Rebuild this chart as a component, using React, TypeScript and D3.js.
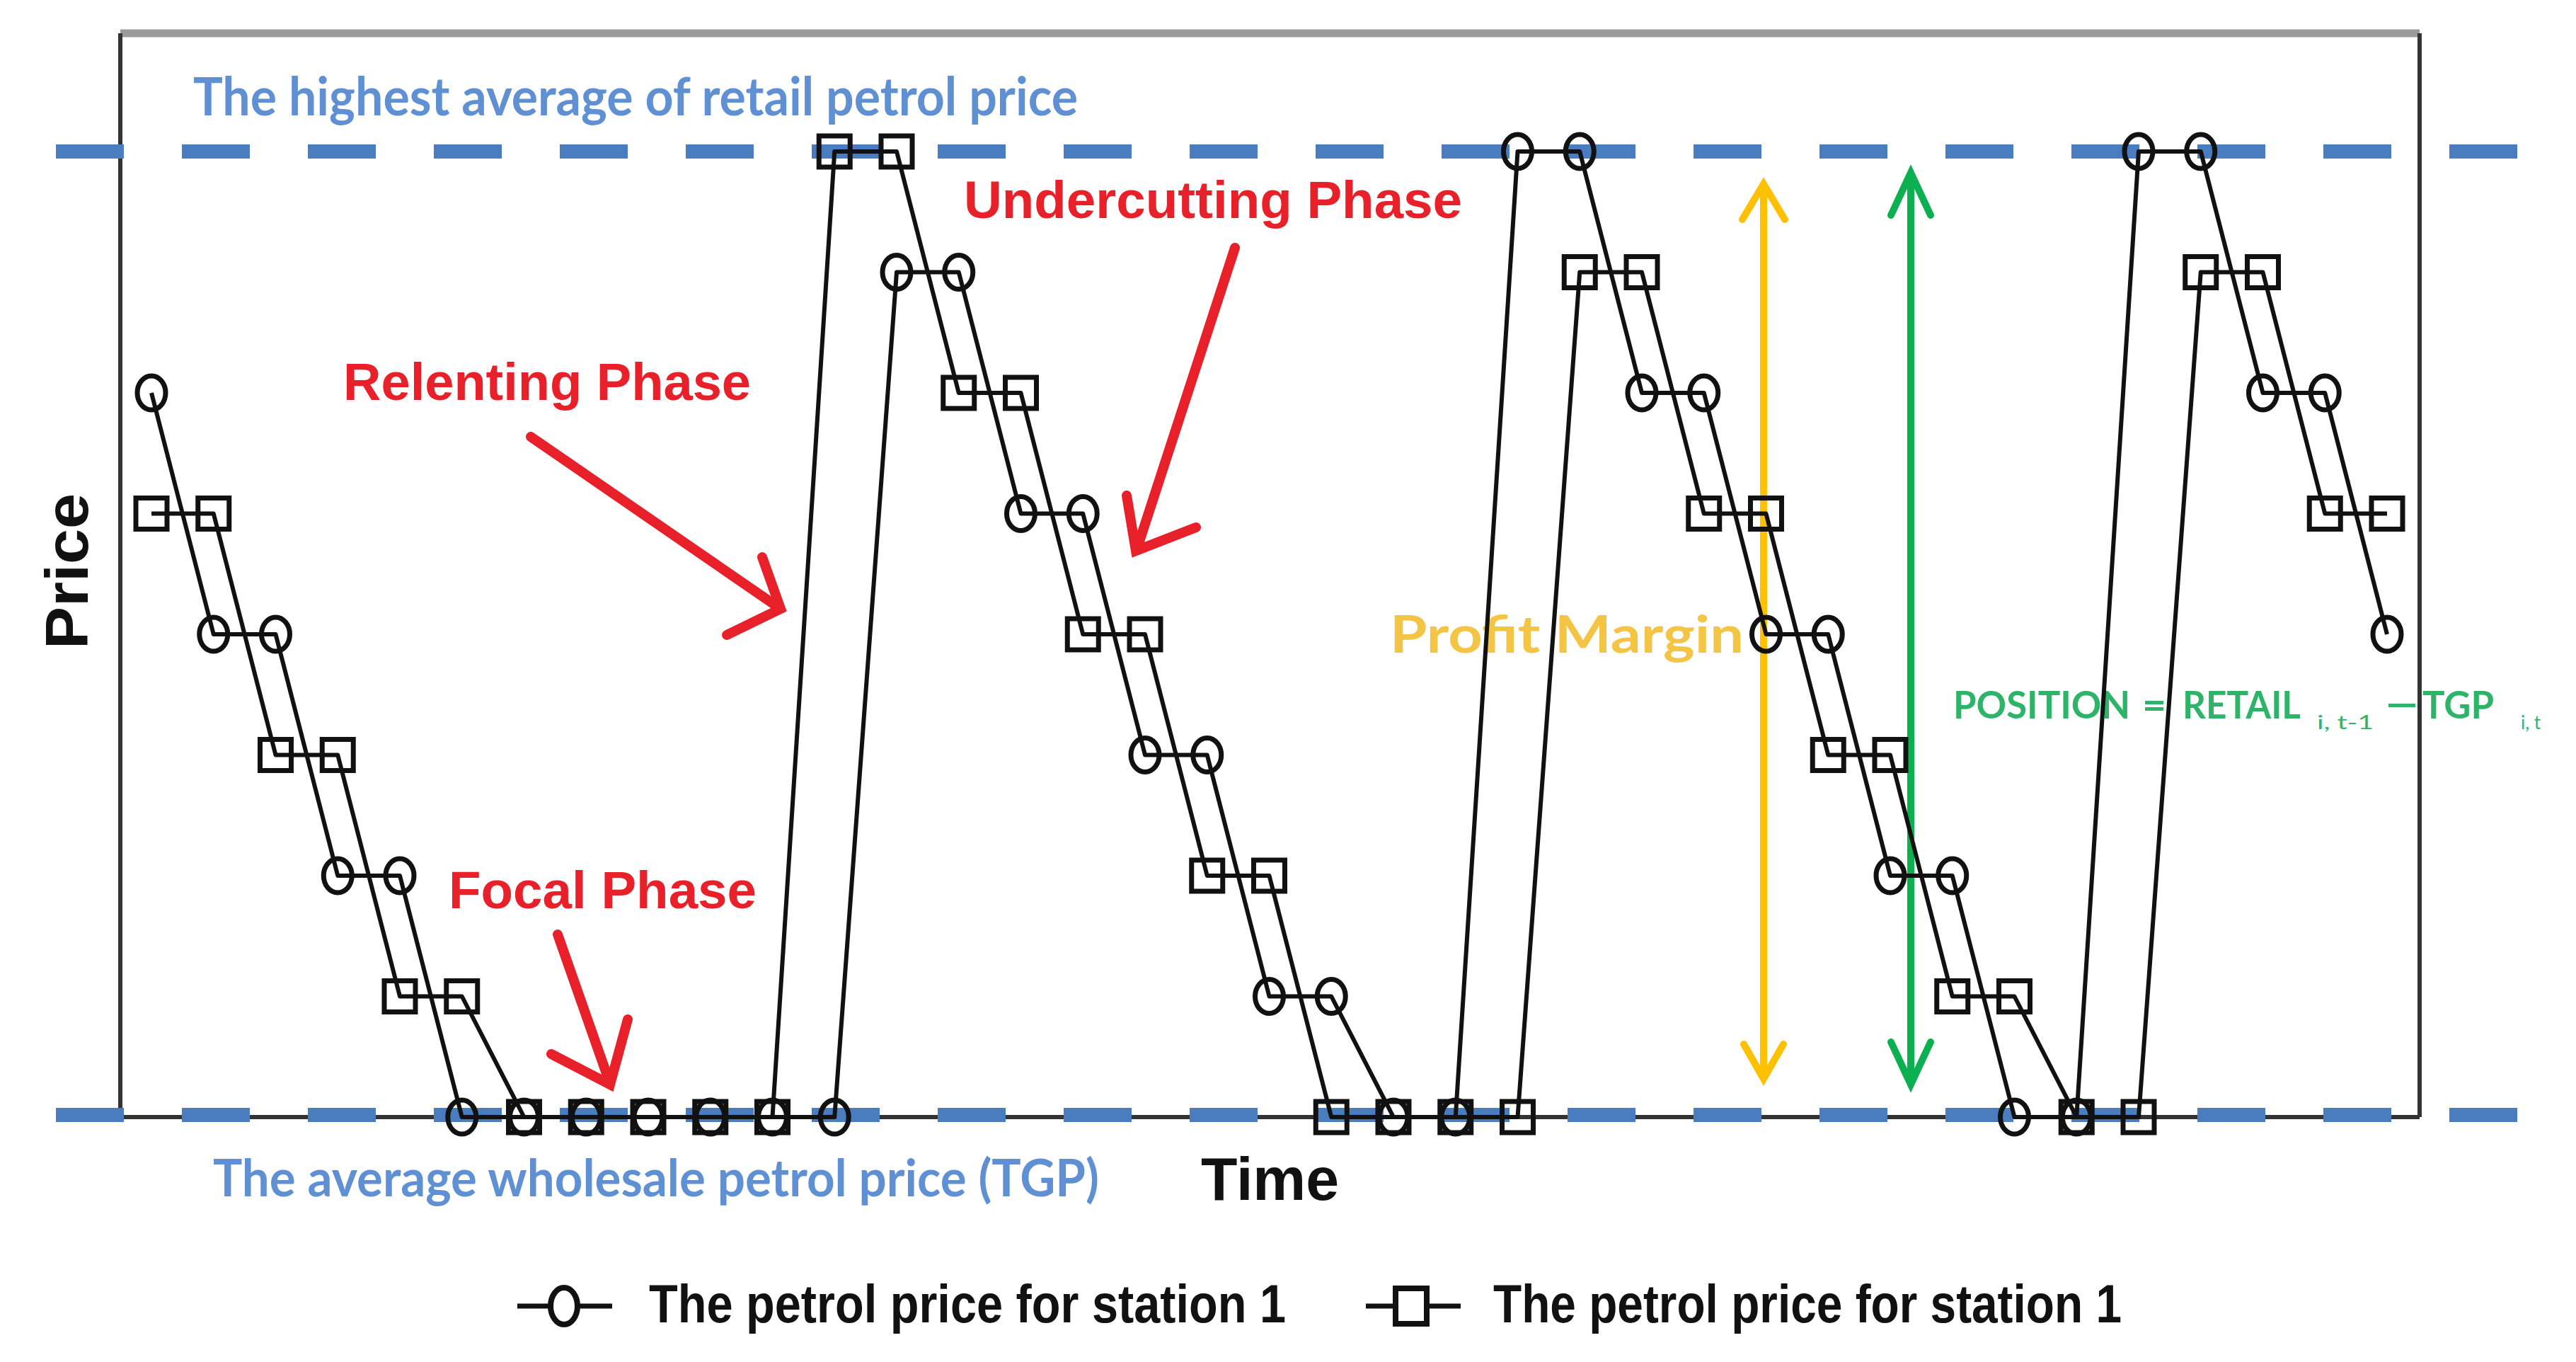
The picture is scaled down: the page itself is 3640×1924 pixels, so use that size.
import React from "react";
import * as d3 from "d3";

// ---- data ----
const timeSteps = [0,1,2,3,4,5,6,7,8,9,10,11,12,13,14,15,16,17,18,19,20,21,22,23,24,25,26,27,28,29,30,31,32,33,34,35,36];
// price level (0 = TGP / wholesale, 8 = highest retail average)
const station1Circle = [6,4,4,2,2,0,0,0,0,0,0,0,7,7,5,5,3,3,1,1,0,0,8,8,6,6,4,4,2,2,0,0,8,8,6,6,4];
const station2Square = [5,5,3,3,1,1,0,0,0,0,0,8,8,6,6,4,4,2,2,0,0,0,0,7,7,5,5,3,3,1,1,0,0,7,7,5,5];
const levelTop = 8;
const levelBottom = 0;
const legendLabels = ["The petrol price for station 1", "The petrol price for station 1"];

const W = 3640, H = 1924;
const frame = { left: 170, right: 3419, top: 47, bottom: 1578 };

const x = d3.scaleLinear().domain([0, 36]).range([214, 3373]);
const y = d3.scaleLinear().domain([0, 8]).range([1578, 214]);

const BLUE = "#4A7CC0";
const BLUE_TEXT = "#6090D4";
const RED = "#E8202A";
const GOLD = "#FFC000";
const GREEN = "#0DB050";

function Chevron({ pts, color, w }: { pts: number[][]; color: string; w: number }) {
  return (
    <polyline
      points={pts.map((p) => p.join(",")).join(" ")}
      fill="none"
      stroke={color}
      strokeWidth={w}
      strokeLinejoin="miter"
      strokeLinecap="round"
    />
  );
}

export default function App() {
  const line = d3
    .line<number>()
    .x((_, i) => x(timeSteps[i]))
    .y((d) => y(d));

  const arial = "'Liberation Sans', Arial, sans-serif";
  const calibri = "Lato, 'Open Sans', sans-serif";

  const dashes = "96 82";

  const yellowX = 2492;
  const greenX = 2700;

  return (
    <svg
      width={W}
      height={H}
      viewBox={`0 0 ${W} ${H}`}
      style={{ position: "absolute", left: 0, top: 0, background: "#fff" }}
    >
      <rect x={0} y={0} width={W} height={H} fill="#fff" />

      {/* frame */}
      <line x1={frame.left} y1={frame.top} x2={frame.right} y2={frame.top} stroke="#9a9a9a" strokeWidth={11} />
      <line x1={frame.left} y1={frame.top} x2={frame.left} y2={frame.bottom} stroke="#333" strokeWidth={6} />
      <line x1={frame.right} y1={frame.top} x2={frame.right} y2={frame.bottom} stroke="#333" strokeWidth={6} />
      <line x1={frame.left} y1={frame.bottom} x2={frame.right} y2={frame.bottom} stroke="#333" strokeWidth={6} />

      {/* annotation texts behind lines */}
      <text x={273} y={163} fontFamily={calibri} fontWeight={700} fontSize={74} fill={BLUE_TEXT} textLength={1250} lengthAdjust="spacingAndGlyphs">
        The highest average of retail petrol price
      </text>
      <text x={301} y={1690} fontFamily={calibri} fontWeight={700} fontSize={72} fill={BLUE_TEXT} textLength={1252} lengthAdjust="spacingAndGlyphs">
        The average wholesale petrol price (TGP)
      </text>
      <text x={1964} y={922} fontFamily={calibri} fontWeight={700} fontSize={72} fill="#F4C445" textLength={500} lengthAdjust="spacingAndGlyphs">
        Profit Margin
      </text>
      <g fontFamily={calibri} fontWeight={700} fill="#2DB468">
        <text x={2760} y={1015} fontSize={54} textLength={250} lengthAdjust="spacingAndGlyphs">POSITION</text>
        <text x={3027} y={1015} fontSize={54} textLength={34} lengthAdjust="spacingAndGlyphs">=</text>
        <text x={3084} y={1015} fontSize={54} textLength={167} lengthAdjust="spacingAndGlyphs">RETAIL</text>
        <text x={3274} y={1030} fontSize={26} fontWeight={400} textLength={80} lengthAdjust="spacingAndGlyphs">i, t-1</text>
        <text x={3369} y={1015} fontSize={54} textLength={50} lengthAdjust="spacingAndGlyphs">−</text>
        <text x={3423} y={1015} fontSize={54} textLength={101} lengthAdjust="spacingAndGlyphs">TGP</text>
        <text x={3562} y={1030} fontSize={26} fontWeight={400} textLength={28} lengthAdjust="spacingAndGlyphs">i, t</text>
      </g>

      {/* reference dashed lines */}
      <line x1={79} x2={3560} y1={y(levelTop)} y2={y(levelTop)} stroke={BLUE} strokeWidth={20} strokeDasharray={dashes} />
      <line x1={79} x2={3560} y1={y(levelBottom) - 3} y2={y(levelBottom) - 3} stroke={BLUE} strokeWidth={20} strokeDasharray={dashes} />

      {/* yellow double arrow */}
      <line x1={yellowX} x2={yellowX} y1={262} y2={1522} stroke={GOLD} strokeWidth={10} />
      <Chevron pts={[[yellowX - 30, 310], [yellowX, 260], [yellowX + 30, 310]]} color={GOLD} w={10} />
      <Chevron pts={[[yellowX - 28, 1475], [yellowX, 1524], [yellowX + 28, 1475]]} color={GOLD} w={10} />

      {/* green double arrow */}
      <line x1={greenX} x2={greenX} y1={246} y2={1530} stroke={GREEN} strokeWidth={10} />
      <Chevron pts={[[greenX - 28, 304], [greenX, 244], [greenX + 28, 304]]} color={GREEN} w={10} />
      <Chevron pts={[[greenX - 28, 1472], [greenX, 1532], [greenX + 28, 1472]]} color={GREEN} w={10} />

      {/* series lines */}
      <path d={line(station1Circle) || ""} fill="none" stroke="#111" strokeWidth={6} strokeLinejoin="round" />
      <path d={line(station2Square) || ""} fill="none" stroke="#111" strokeWidth={6} strokeLinejoin="round" />

      {/* markers */}
      {station1Circle.map((d, i) => (
        <ellipse key={"c" + i} cx={x(timeSteps[i])} cy={y(d)} rx={20} ry={24} fill="none" stroke="#111" strokeWidth={7} />
      ))}
      {station2Square.map((d, i) => (
        <rect key={"s" + i} x={x(timeSteps[i]) - 22} y={y(d) - 22} width={44} height={44} fill="none" stroke="#111" strokeWidth={7} />
      ))}

      {/* red phase labels */}
      <g fontFamily={arial} fontWeight={700} fill={RED}>
        <text x={1362} y={308} fontSize={74} textLength={704} lengthAdjust="spacingAndGlyphs">Undercutting Phase</text>
        <text x={485} y={565} fontSize={74} textLength={576} lengthAdjust="spacingAndGlyphs">Relenting Phase</text>
        <text x={634} y={1283} fontSize={74} textLength={435} lengthAdjust="spacingAndGlyphs">Focal Phase</text>
      </g>

      {/* red arrows */}
      <g>
        <line x1={750} y1={617} x2={1100} y2={858} stroke={RED} strokeWidth={14} strokeLinecap="round" />
        <Chevron pts={[[1077, 787], [1103, 860], [1027, 897]]} color={RED} w={14} />
        <line x1={1745} y1={350} x2={1607} y2={774} stroke={RED} strokeWidth={14} strokeLinecap="round" />
        <Chevron pts={[[1690, 745], [1605, 778], [1592, 700]]} color={RED} w={14} />
        <line x1={788} y1={1320} x2={861} y2={1528} stroke={RED} strokeWidth={14} strokeLinecap="round" />
        <Chevron pts={[[779, 1489], [862, 1532], [887, 1440]]} color={RED} w={14} />
      </g>

      {/* axis titles */}
      <text transform="translate(124,807) rotate(-90)" textAnchor="middle" fontFamily={arial} fontWeight={700} fontSize={86} fill="#111" textLength={220} lengthAdjust="spacingAndGlyphs">
        Price
      </text>
      <text x={1697} y={1695} fontFamily={arial} fontWeight={700} fontSize={86} fill="#111" textLength={195} lengthAdjust="spacingAndGlyphs">
        Time
      </text>

      {/* legend */}
      <g>
        <line x1={731} x2={865} y1={1845} y2={1845} stroke="#111" strokeWidth={7} />
        <ellipse cx={797} cy={1845} rx={19} ry={26} fill="#fff" stroke="#111" strokeWidth={8} />
        <text x={917} y={1868} fontFamily={arial} fontWeight={700} fontSize={76} fill="#111" textLength={900} lengthAdjust="spacingAndGlyphs">
          {legendLabels[0]}
        </text>
        <line x1={1930} x2={2064} y1={1845} y2={1845} stroke="#111" strokeWidth={7} />
        <rect x={1972} y={1820} width={44} height={50} fill="#fff" stroke="#111" strokeWidth={8} />
        <text x={2110} y={1868} fontFamily={arial} fontWeight={700} fontSize={76} fill="#111" textLength={888} lengthAdjust="spacingAndGlyphs">
          {legendLabels[1]}
        </text>
      </g>
    </svg>
  );
}
